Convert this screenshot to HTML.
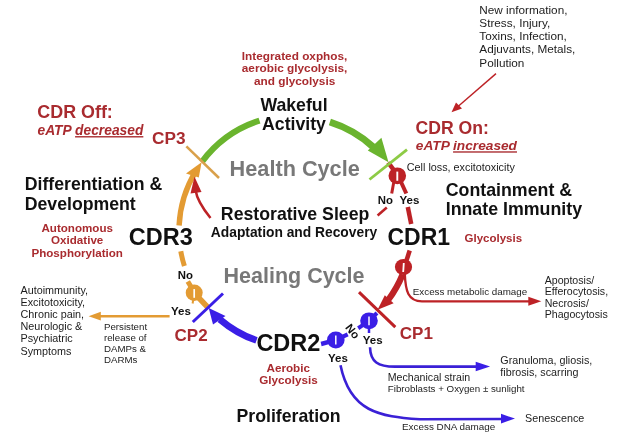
<!DOCTYPE html>
<html><head><meta charset="utf-8"><style>
html,body{margin:0;padding:0;background:#fff;width:622px;height:446px;overflow:hidden}
svg{display:block;will-change:transform}
text{font-family:"Liberation Sans",sans-serif}
</style></head><body>
<svg width="622" height="446" viewBox="0 0 622 446">
<rect width="622" height="446" fill="#fff"/>
<path d="M201.8,162.0 A116,116 0 0 1 259.5,120.6" stroke="#6ab42e" stroke-width="6.2" fill="none"/>
<path d="M329.9,122.0 A116,116 0 0 1 373.4,147.1" stroke="#6ab42e" stroke-width="7" fill="none"/>
<polygon points="367.8,150.6 381.4,137.8 388.5,162.3" fill="#6ab42e"/>
<line x1="186.4" y1="146.4" x2="219" y2="178" stroke="#d9a04a" stroke-width="2.5"/>
<path d="M179.1,225.5 A116,116 0 0 1 195.6,171.3" stroke="#e39b33" stroke-width="5.4" fill="none"/>
<polygon points="186,173.6 198.8,177.5 201.6,162.3" fill="#e39b33"/>
<path d="M184.4,266.1 A116,116 0 0 1 180.8,251.3" stroke="#e39b33" stroke-width="5" fill="none"/>
<line x1="187.8" y1="281.5" x2="193" y2="290" stroke="#e39b33" stroke-width="5"/>
<line x1="198" y1="297" x2="207.5" y2="307" stroke="#e39b33" stroke-width="5.5"/>
<line x1="193.5" y1="298" x2="192.6" y2="303.5" stroke="#e39b33" stroke-width="2"/>
<ellipse cx="194.2" cy="292.7" rx="8.5" ry="8.2" fill="#e39b33"/>
<line x1="194.2" y1="289.09999999999997" x2="194.2" y2="297.8" stroke="#fff" stroke-width="1.7"/>
<line x1="169.6" y1="316.2" x2="99" y2="316.2" stroke="#e39b33" stroke-width="2.6"/>
<polygon points="88.6,316.2 100.8,311.8 100.8,320.6" fill="#e39b33"/>
<line x1="192.8" y1="322" x2="223" y2="293.5" stroke="#3a1ee6" stroke-width="3"/>
<path d="M256.5,340.4 A116,116 0 0 1 219.8,319.3" stroke="#3a1ee6" stroke-width="6.8" fill="none"/>
<polygon points="213,324.5 225.5,316 208.7,308" fill="#3a1ee6"/>
<path d="M335.6,339.7 A116,116 0 0 1 321.1,344.0" stroke="#3a1ee6" stroke-width="4.5" fill="none"/>
<path d="M377.0,313.0 A116,116 0 0 1 366.4,322.4" stroke="#3a1ee6" stroke-width="4" fill="none"/>
<path d="M347.7,334.4 A116,116 0 0 1 335.6,339.7" stroke="#3a1ee6" stroke-width="4" fill="none"/>
<path d="M368.8,320.5 A116,116 0 0 1 358.2,328.3" stroke="#3a1ee6" stroke-width="4" fill="none"/>
<ellipse cx="335.8" cy="340" rx="8.8" ry="8.4" fill="#3a1ee6"/>
<line x1="335.8" y1="335.6" x2="335.8" y2="344.4" stroke="#fff" stroke-width="1.5"/>
<line x1="369" y1="326" x2="369" y2="333" stroke="#3a1ee6" stroke-width="2.5"/>
<ellipse cx="369" cy="320.8" rx="8.8" ry="8.4" fill="#3a1ee6"/>
<line x1="369" y1="316.40000000000003" x2="369" y2="325.2" stroke="#fff" stroke-width="1.5"/>
<path d="M370,347.2 C370.5,362 378,366.6 395,366.6 L478,366.6" stroke="#3a20d6" stroke-width="2.6" fill="none"/>
<polygon points="490.1,366.5 475.7,361.7 475.7,371.3" fill="#3a1ee6"/>
<path d="M340.5,365.3 C350.1,412.1 379.4,416.4 420,419.3 L503,419" stroke="#3a20d6" stroke-width="2.6" fill="none"/>
<polygon points="515,418.6 501,413.8 501,423.4" fill="#3a1ee6"/>
<line x1="393.8" y1="182" x2="391.7" y2="193.5" stroke="#bd2226" stroke-width="3"/>
<line x1="401" y1="182" x2="406.3" y2="193.5" stroke="#bd2226" stroke-width="4"/>
<line x1="388.2" y1="162.5" x2="394.5" y2="171" stroke="#bd2226" stroke-width="4.6"/>
<ellipse cx="397.3" cy="175.8" rx="8.8" ry="8.4" fill="#bd2226"/>
<line x1="397.3" y1="171.60000000000002" x2="397.3" y2="180.8" stroke="#fff" stroke-width="1.9"/>
<line x1="407.8" y1="207" x2="411.2" y2="224" stroke="#bd2226" stroke-width="4.5"/>
<line x1="386.8" y1="207.5" x2="377.6" y2="215.5" stroke="#bd2226" stroke-width="2.5"/>
<line x1="409.7" y1="250.5" x2="406" y2="262" stroke="#bd2226" stroke-width="4.5"/>
<path d="M402.6,274.5 A116,116 0 0 1 388.2,300.0" stroke="#bd2226" stroke-width="6.2" fill="none"/>
<polygon points="384.8,295.2 393.6,303.2 377.6,309.8" fill="#bd2226"/>
<path d="M404.8,273.6 C405.5,291 408,301.3 422,301.3 L530,301.3" stroke="#bd2226" stroke-width="2.3" fill="none"/>
<polygon points="541.3,301.3 528.3,296.8 528.3,305.8" fill="#bd2226"/>
<ellipse cx="403.5" cy="267" rx="8.6" ry="8" fill="#bd2226"/>
<line x1="403.8" y1="263" x2="403.2" y2="272" stroke="#fff" stroke-width="1.8"/>
<line x1="359" y1="292.2" x2="395.3" y2="327.2" stroke="#bd2226" stroke-width="3"/>
<line x1="369.5" y1="179.5" x2="407" y2="149.6" stroke="#8dcb45" stroke-width="2.8"/>
<path d="M210.5,218 C204,210 197,200 195.5,190" stroke="#bd2226" stroke-width="2.5" fill="none"/>
<polygon points="190.5,193.5 201.5,192 194.5,176.8" fill="#bd2226"/>
<line x1="496" y1="73.6" x2="458" y2="106.5" stroke="#bd2226" stroke-width="1.4"/>
<polygon points="451.5,112.3 456,102.5 462,108.5" fill="#bd2226"/>
<text x="479.3" y="13.6" font-size="11.75" fill="#1c1c1c" font-weight="normal" font-style="normal" >New information,</text>
<text x="479.3" y="26.85" font-size="11.75" fill="#1c1c1c" font-weight="normal" font-style="normal" >Stress, Injury,</text>
<text x="479.3" y="40.1" font-size="11.75" fill="#1c1c1c" font-weight="normal" font-style="normal" >Toxins, Infection,</text>
<text x="479.3" y="53.35" font-size="11.75" fill="#1c1c1c" font-weight="normal" font-style="normal" >Adjuvants, Metals,</text>
<text x="479.3" y="66.6" font-size="11.75" fill="#1c1c1c" font-weight="normal" font-style="normal" >Pollution</text>
<text x="294.6" y="59.6" font-size="11.8" fill="#a92b2f" font-weight="bold" font-style="normal" text-anchor="middle">Integrated oxphos,</text>
<text x="294.6" y="72.4" font-size="11.8" fill="#a92b2f" font-weight="bold" font-style="normal" text-anchor="middle">aerobic glycolysis,</text>
<text x="294.6" y="85.3" font-size="11.8" fill="#a92b2f" font-weight="bold" font-style="normal" text-anchor="middle">and glycolysis</text>
<text x="294" y="111" font-size="17.7" fill="#111" font-weight="bold" font-style="normal" text-anchor="middle">Wakeful</text>
<text x="294" y="130.3" font-size="17.7" fill="#111" font-weight="bold" font-style="normal" text-anchor="middle">Activity</text>
<text x="37.3" y="118.3" font-size="17.9" fill="#a92b2f" font-weight="bold" font-style="normal" >CDR Off:</text>
<text x="37.5" y="135.1" font-size="13.8" fill="#a92b2f" font-weight="bold" font-style="italic">eATP <tspan text-decoration="underline">decreased</tspan></text>
<text x="152" y="144.3" font-size="17.2" fill="#a92b2f" font-weight="bold" font-style="normal" >CP3</text>
<text x="24.7" y="190.3" font-size="17.7" fill="#111" font-weight="bold" font-style="normal" >Differentiation &amp;</text>
<text x="24.7" y="209.7" font-size="17.7" fill="#111" font-weight="bold" font-style="normal" >Development</text>
<text x="77.2" y="231.8" font-size="11.6" fill="#a92b2f" font-weight="bold" font-style="normal" text-anchor="middle">Autonomous</text>
<text x="77.2" y="244.4" font-size="11.6" fill="#a92b2f" font-weight="bold" font-style="normal" text-anchor="middle">Oxidative</text>
<text x="77.2" y="256.6" font-size="11.6" fill="#a92b2f" font-weight="bold" font-style="normal" text-anchor="middle">Phosphorylation</text>
<text x="128.8" y="245.2" font-size="23.5" fill="#111" font-weight="bold" font-style="normal" >CDR3</text>
<text x="20.5" y="293.9" font-size="10.8" fill="#1c1c1c" font-weight="normal" font-style="normal" >Autoimmunity,</text>
<text x="20.5" y="306.02" font-size="10.8" fill="#1c1c1c" font-weight="normal" font-style="normal" >Excitotoxicity,</text>
<text x="20.5" y="318.14" font-size="10.8" fill="#1c1c1c" font-weight="normal" font-style="normal" >Chronic pain,</text>
<text x="20.5" y="330.26" font-size="10.8" fill="#1c1c1c" font-weight="normal" font-style="normal" >Neurologic &amp;</text>
<text x="20.5" y="342.38" font-size="10.8" fill="#1c1c1c" font-weight="normal" font-style="normal" >Psychiatric</text>
<text x="20.5" y="354.5" font-size="10.8" fill="#1c1c1c" font-weight="normal" font-style="normal" >Symptoms</text>
<text x="104" y="329.7" font-size="9.7" fill="#1c1c1c" font-weight="normal" font-style="normal" >Persistent</text>
<text x="104" y="340.9" font-size="9.7" fill="#1c1c1c" font-weight="normal" font-style="normal" >release of</text>
<text x="104" y="352.09999999999997" font-size="9.7" fill="#1c1c1c" font-weight="normal" font-style="normal" >DAMPs &amp;</text>
<text x="104" y="363.29999999999995" font-size="9.7" fill="#1c1c1c" font-weight="normal" font-style="normal" >DARMs</text>
<text x="177.7" y="278.6" font-size="11.4" fill="#111" font-weight="bold" font-style="normal" >No</text>
<text x="171" y="314.5" font-size="11.5" fill="#111" font-weight="bold" font-style="normal" >Yes</text>
<text x="174.6" y="341" font-size="17" fill="#a92b2f" font-weight="bold" font-style="normal" >CP2</text>
<text x="294.7" y="175.8" font-size="21.7" fill="#787878" font-weight="bold" font-style="normal" text-anchor="middle">Health Cycle</text>
<text x="295.1" y="219.9" font-size="17.7" fill="#111" font-weight="bold" font-style="normal" text-anchor="middle">Restorative Sleep</text>
<text x="294" y="236.7" font-size="13.8" fill="#111" font-weight="bold" font-style="normal" text-anchor="middle">Adaptation and Recovery</text>
<text x="294" y="282.8" font-size="21.5" fill="#787878" font-weight="bold" font-style="normal" text-anchor="middle">Healing Cycle</text>
<text x="256.4" y="350.7" font-size="23.5" fill="#111" font-weight="bold" font-style="normal" >CDR2</text>
<text x="288.2" y="371.9" font-size="11.7" fill="#a92b2f" font-weight="bold" font-style="normal" text-anchor="middle">Aerobic</text>
<text x="288.4" y="384" font-size="11.7" fill="#a92b2f" font-weight="bold" font-style="normal" text-anchor="middle">Glycolysis</text>
<text x="236.5" y="422.2" font-size="17.7" fill="#111" font-weight="bold" font-style="normal" >Proliferation</text>
<text x="328" y="362" font-size="11.5" fill="#111" font-weight="bold" font-style="normal" >Yes</text>
<text x="362.8" y="344.3" font-size="11.5" fill="#111" font-weight="bold" font-style="normal" >Yes</text>
<text x="0" y="0" font-size="11.5" font-weight="bold" fill="#111" transform="translate(344.8,327.8) rotate(52)">No</text>
<text x="415.6" y="133.6" font-size="17.6" fill="#a92b2f" font-weight="bold" font-style="normal" >CDR On:</text>
<text x="415.8" y="150.3" font-size="13.7" fill="#a92b2f" font-weight="bold" font-style="italic">eATP <tspan text-decoration="underline">increased</tspan></text>
<text x="406.8" y="171" font-size="10.8" fill="#1c1c1c" font-weight="normal" font-style="normal" >Cell loss, excitotoxicity</text>
<text x="377.7" y="203.9" font-size="11.4" fill="#111" font-weight="bold" font-style="normal" >No</text>
<text x="399.5" y="203.9" font-size="11.5" fill="#111" font-weight="bold" font-style="normal" >Yes</text>
<text x="445.7" y="195.7" font-size="17.8" fill="#111" font-weight="bold" font-style="normal" >Containment &amp;</text>
<text x="445.7" y="215.2" font-size="17.8" fill="#111" font-weight="bold" font-style="normal" >Innate Immunity</text>
<text x="387.5" y="244.9" font-size="23" fill="#111" font-weight="bold" font-style="normal" >CDR1</text>
<text x="464.5" y="241.8" font-size="11.5" fill="#a92b2f" font-weight="bold" font-style="normal" >Glycolysis</text>
<text x="412.8" y="295" font-size="9.8" fill="#1c1c1c" font-weight="normal" font-style="normal" >Excess metabolic damage</text>
<text x="544.7" y="283.7" font-size="10.6" fill="#1c1c1c" font-weight="normal" font-style="normal" >Apoptosis/</text>
<text x="544.7" y="295.09999999999997" font-size="10.6" fill="#1c1c1c" font-weight="normal" font-style="normal" >Efferocytosis,</text>
<text x="544.7" y="306.5" font-size="10.6" fill="#1c1c1c" font-weight="normal" font-style="normal" >Necrosis/</text>
<text x="544.7" y="317.9" font-size="10.6" fill="#1c1c1c" font-weight="normal" font-style="normal" >Phagocytosis</text>
<text x="399.8" y="338.6" font-size="17" fill="#a92b2f" font-weight="bold" font-style="normal" >CP1</text>
<text x="387.8" y="381" font-size="10.6" fill="#1c1c1c" font-weight="normal" font-style="normal" >Mechanical strain</text>
<text x="387.8" y="391.8" font-size="9.75" fill="#1c1c1c" font-weight="normal" font-style="normal" >Fibroblasts + Oxygen ± sunlight</text>
<text x="500.3" y="364" font-size="10.75" fill="#1c1c1c" font-weight="normal" font-style="normal" >Granuloma, gliosis,</text>
<text x="500.3" y="376" font-size="10.75" fill="#1c1c1c" font-weight="normal" font-style="normal" >fibrosis, scarring</text>
<text x="525.1" y="422" font-size="10.75" fill="#1c1c1c" font-weight="normal" font-style="normal" >Senescence</text>
<text x="402" y="430.4" font-size="9.9" fill="#1c1c1c" font-weight="normal" font-style="normal" >Excess DNA damage</text>
</svg>
</body></html>
